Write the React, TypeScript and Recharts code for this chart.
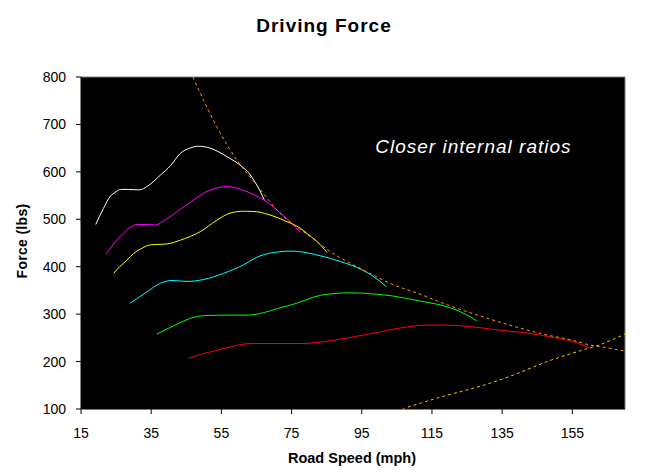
import React from "react";
import {
  LineChart,
  Line,
  XAxis,
  YAxis,
  CartesianGrid,
  ReferenceLine,
  ReferenceDot,
} from "recharts";

type Pt = { x: number; y: number };
const pts = (rows: number[][]): Pt[] => rows.map(([x, y]) => ({ x, y }));

// Tractive force per gear (road speed mph, force lbs)
const gear1 = pts([
  [19.2, 489], [21.4, 523], [23.3, 548], [25, 558], [26.2, 563], [28.5, 563],
  [31.6, 562], [34, 570], [37.6, 593], [40.5, 613], [43.3, 639], [46, 650],
  [48.5, 654], [51.8, 650], [54, 643], [56.6, 632], [60.9, 611], [63, 596],
  [64.7, 577], [66, 560], [67.2, 541],
]);
const gear2 = pts([
  [22.1, 426], [24, 445], [27, 470], [29, 483], [31, 489], [33.5, 489],
  [36.2, 488], [39, 499], [42.4, 516], [47.1, 541], [51.8, 562], [57, 569],
  [62.3, 558], [67, 541], [71.8, 513], [75, 492], [77.5, 472],
]);
const gear3 = pts([
  [24.3, 386], [26, 400], [28.1, 414], [30, 428], [31.9, 437], [34.7, 446],
  [37, 447], [39.5, 448], [43.3, 456], [49, 474], [53.7, 498], [57.5, 513],
  [61.3, 517], [65, 516], [68, 511], [73.7, 495], [77.5, 481], [79.4, 470],
  [82, 455], [85.1, 430],
]);
const gear4 = pts([
  [29, 323], [33.8, 347], [37.6, 365], [40.9, 371], [45.2, 369], [49.9, 373],
  [55.6, 386], [61.3, 404], [65.1, 420], [69.9, 430], [74.6, 433], [78, 431],
  [83.2, 423], [88.9, 411], [94.6, 395], [98.4, 379], [102, 358],
]);
const gear5 = pts([
  [36.6, 258], [42.4, 279], [46.1, 291], [50.4, 297], [57.6, 298], [62.3, 298],
  [67, 303], [71, 312], [76.5, 323], [81.3, 336], [85.1, 342], [91.7, 345],
  [99.3, 342], [104, 338], [107.9, 333], [112, 327], [116.4, 321], [120, 314],
  [123.1, 305], [126, 294], [127.8, 286],
]);
const gear6 = pts([
  [45.7, 207], [49, 215], [52.8, 222], [57.6, 231], [63.2, 238], [70, 238],
  [78, 238], [86, 244], [95.5, 256], [103.1, 267], [108.8, 274], [112.6, 277],
  [118, 277], [124, 275], [133.5, 267], [142.1, 260], [149.6, 251],
  [155.3, 242], [158, 235], [160.1, 228],
]);

// Maximum-power envelope and road-load (drag) curve
const powerLimit = pts([
  [46.9, 800], [50, 750], [53.7, 695], [59.4, 625], [65.1, 572], [70.8, 520],
  [80, 465], [87.9, 423], [95, 395], [105, 359], [109.8, 347], [120, 318],
  [128.8, 296], [138, 275], [147.8, 256], [155, 245], [160, 235], [165, 229],
  [170, 222],
]);
const roadLoad = pts([
  [106.5, 100], [112, 113], [119.3, 129], [128.8, 148], [138.3, 172],
  [147.8, 200], [157.3, 223], [162, 233.5], [170, 258],
]);

const xTicks = [15, 35, 55, 75, 95, 115, 135, 155];
const yTicks = [100, 200, 300, 400, 500, 600, 700, 800];

const gears: { data: Pt[]; color: string }[] = [
  { data: gear1, color: "#FFFFFF" },
  { data: gear2, color: "#FF00FF" },
  { data: gear3, color: "#FFFF00" },
  { data: gear4, color: "#00FFFF" },
  { data: gear5, color: "#00FF00" },
  { data: gear6, color: "#FF0000" },
];

const FONT = "Arial, 'Liberation Sans', sans-serif";

export default function App() {
  return (
    <div style={{ position: "relative", width: 640, height: 468 }}>
      <div
        style={{
          position: "absolute",
          left: -8,
          top: 7.6,
          width: 648,
          textAlign: "center",
          fontFamily: FONT,
          fontWeight: "bold",
          fontSize: 19,
          lineHeight: "19px",
          letterSpacing: 1,
          color: "#000",
        }}
      >
        Driving Force
      </div>
      <LineChart
        width={640}
        height={468}
        margin={{ top: 69, right: 23, bottom: 37, left: 0 }}
      >
        <CartesianGrid fill="#000000" stroke="none" horizontal={false} vertical={false} />
        <XAxis
          type="number"
          dataKey="x"
          domain={[15, 170]}
          ticks={xTicks}
          allowDataOverflow
          height={30}
          tickSize={5}
          tickMargin={14}
          stroke="#000"
          tick={{ fill: "#000", fontSize: 14, fontFamily: FONT }}
          label={{
            content: ({ viewBox }: any) => (
              <text
                x={viewBox.x + viewBox.width / 2 - 1}
                y={viewBox.y + 54.3}
                textAnchor="middle"
                fontFamily={FONT}
                fontWeight="bold"
                fontSize={14.5}
                fill="#000"
              >
                Road Speed (mph)
              </text>
            ),
          }}
        />
        <YAxis
          type="number"
          dataKey="y"
          domain={[100, 800]}
          ticks={yTicks}
          allowDataOverflow
          width={73}
          tickSize={5}
          tickMargin={10}
          stroke="#000"
          tick={{ fill: "#000", fontSize: 14, fontFamily: FONT }}
          label={{
            content: ({ viewBox }: any) => {
              const cx = viewBox.x + 18.7;
              const cy = viewBox.y + viewBox.height / 2 - 2;
              return (
                <text
                  x={cx}
                  y={cy}
                  transform={`rotate(-90 ${cx} ${cy})`}
                  textAnchor="middle"
                  fontFamily={FONT}
                  fontWeight="bold"
                  fontSize={14}
                  letterSpacing={0.3}
                  fill="#000"
                >
                  Force (lbs)
                </text>
              );
            },
          }}
        />
        <ReferenceLine y={800} stroke="#808080" strokeWidth={1} />
        <ReferenceLine x={170} stroke="#808080" strokeWidth={1} />
        {gears.map((g, i) => (
          <Line
            key={i}
            data={g.data}
            dataKey="y"
            type="monotone"
            stroke={g.color}
            strokeWidth={1}
            dot={false}
            activeDot={false}
            isAnimationActive={false}
          />
        ))}
        <Line
          data={powerLimit}
          dataKey="y"
          type="monotone"
          stroke="#FF9900"
          strokeWidth={1}
          strokeDasharray="3 3"
          dot={false}
          activeDot={false}
          isAnimationActive={false}
        />
        <Line
          data={roadLoad}
          dataKey="y"
          type="monotone"
          stroke="#FFC000"
          strokeWidth={1}
          strokeDasharray="3 3"
          dot={false}
          activeDot={false}
          isAnimationActive={false}
        />
        <ReferenceDot
          x={98.85}
          y={639}
          r={0}
          fill="none"
          stroke="none"
          label={{
            content: ({ viewBox }: any) => (
              <text
                x={viewBox.x}
                y={viewBox.y}
                textAnchor="start"
                fontFamily={FONT}
                fontStyle="italic"
                fontSize={19}
                letterSpacing={1}
                fill="#FFFFFF"
              >
                Closer internal ratios
              </text>
            ),
          }}
        />
      </LineChart>
    </div>
  );
}
